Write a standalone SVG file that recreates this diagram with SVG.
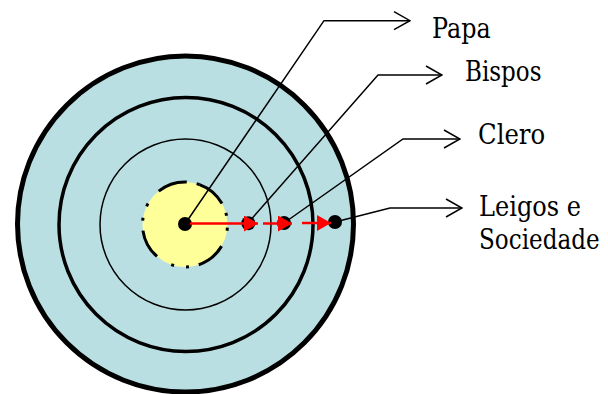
<svg xmlns="http://www.w3.org/2000/svg" width="608" height="394" viewBox="0 0 608 394">
<style>
.ring{fill:#B9DFE3;stroke:#000}
.lbl{font-family:'DejaVu Serif','Liberation Serif',serif;font-size:27px;fill:#000}
.conn{fill:none;stroke:#000;stroke-width:1.5}
.red{stroke:#FF0000;stroke-width:2.5;fill:none}
.dot{fill:#000}
</style>
<defs>
<marker id="open" viewBox="0 0 18 20" refX="17" refY="10" markerWidth="18" markerHeight="20" markerUnits="userSpaceOnUse" orient="auto">
<path d="M1,1 L17,10 L1,19" fill="none" stroke="#000" stroke-width="1.5"/>
</marker>
<marker id="redhead" viewBox="0 0 14 16" refX="14" refY="8" markerWidth="14" markerHeight="16" markerUnits="userSpaceOnUse" orient="auto">
<path d="M0,0 L14,8 L0,16 Z" fill="#FF0000"/>
</marker>
</defs>
<g id="circles">
<circle class="ring" cx="185.5" cy="224" r="168" stroke-width="5"/>
<circle class="ring" cx="186" cy="224.5" r="127" stroke-width="3.5"/>
<circle class="ring" cx="185.5" cy="224.5" r="85.5" stroke-width="1.5"/>
<circle cx="185" cy="224.5" r="42.5" fill="#FFFF99" stroke="#000" stroke-width="3" stroke-dasharray="30 10 3 12 3 16.5" transform="rotate(-70 185 224.5)"/>
</g>
<g id="nodes">
<circle id="papa-dot" class="dot" cx="185" cy="224" r="7"/>
<circle id="bispos-dot" class="dot" cx="248.3" cy="223.3" r="7"/>
<circle id="clero-dot" class="dot" cx="284" cy="223" r="7"/>
<circle id="leigos-dot" class="dot" cx="335" cy="222" r="7"/>
</g>
<g id="connectors">
<polyline class="conn" points="185,224 324,20.7 410,20.7" marker-end="url(#open)"/>
<polyline class="conn" points="248,223 378,75 442,75" marker-end="url(#open)"/>
<polyline class="conn" points="284,223 403,139 460,139" marker-end="url(#open)"/>
<polyline class="conn" points="335,222 390,208 462,208" marker-end="url(#open)"/>
<line class="red" x1="190" y1="223.5" x2="258" y2="223.5" marker-end="url(#redhead)"/>
<line class="red" x1="263" y1="223.5" x2="292" y2="223.5" marker-end="url(#redhead)"/>
<line class="red" x1="302" y1="223" x2="331" y2="223" marker-end="url(#redhead)"/>
</g>
<g id="labels">
<text id="papa" class="lbl" transform="translate(432 38) scale(0.85 1)" x="0" y="0" textLength="69" lengthAdjust="spacingAndGlyphs">Papa</text>
<text id="bispos" class="lbl" transform="translate(465 81) scale(0.85 1)" x="0" y="0" textLength="90" lengthAdjust="spacingAndGlyphs">Bispos</text>
<text id="clero" class="lbl" transform="translate(478 144) scale(0.85 1)" x="0" y="0" textLength="79" lengthAdjust="spacingAndGlyphs">Clero</text>
<text id="leigos" class="lbl" transform="translate(479 216) scale(0.85 1)" x="0" y="0" textLength="120" lengthAdjust="spacingAndGlyphs">Leigos e</text>
<text id="sociedade" class="lbl" transform="translate(479 249) scale(0.85 1)" x="0" y="0" textLength="142" lengthAdjust="spacingAndGlyphs">Sociedade</text>
</g>
</svg>
